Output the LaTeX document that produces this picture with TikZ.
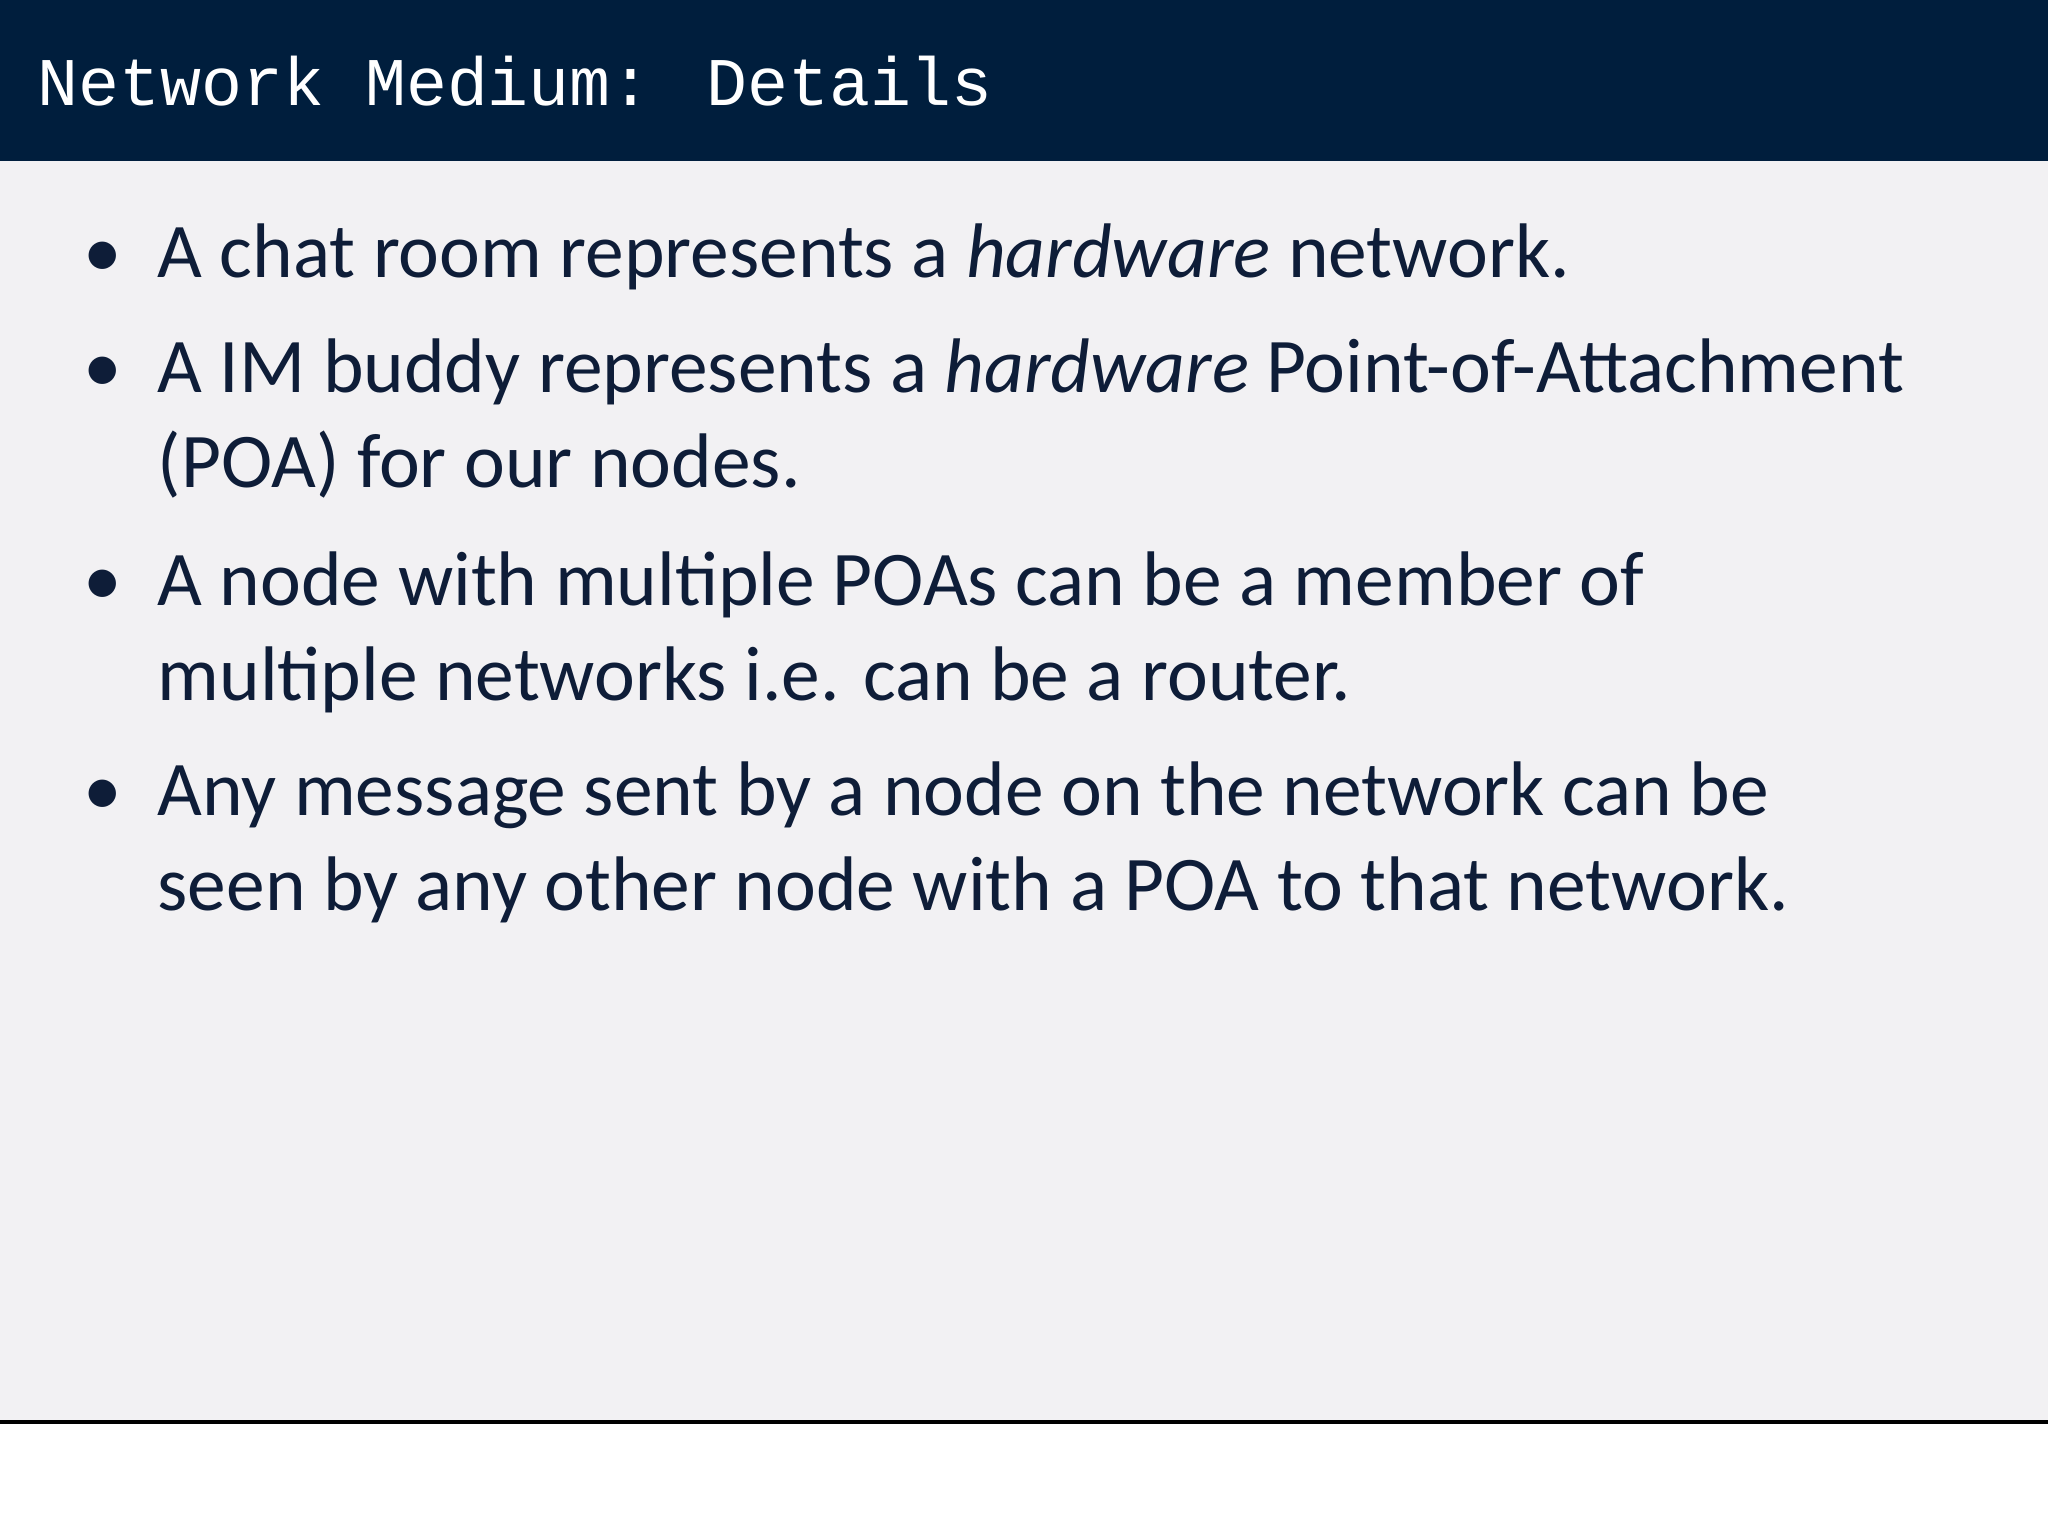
\documentclass[tikz,border=0pt]{standalone}
\usepackage{fontspec}
\setmainfont{Carlito}
\newfontfamily\titlefont{Liberation Mono}
\definecolor{navy}{HTML}{001E3D}
\definecolor{bodybg}{HTML}{F2F1F3}
\definecolor{txt}{HTML}{0E1D38}
\begin{document}
\begin{tikzpicture}[x=0.01cm,y=-0.01cm,
  line/.style={anchor=base west,inner sep=0,text=txt,font=\fontsize{22}{26}\selectfont},
  bul/.style={anchor=base west,inner sep=0,text=txt,font=\fontsize{22}{26}\selectfont}]
\useasboundingbox (0,0) rectangle (2048,1536);
\fill[white] (0,0) rectangle (2048,1536);
\fill[bodybg] (0,161) rectangle (2048,1421);
\fill[navy] (0,0) rectangle (2048,161);
\draw[black,line width=1.2pt] (0,1422) -- (2048,1422);
\node[anchor=base west,inner sep=0,text=white,font=\titlefont\fontsize{19.4}{22}\selectfont] (title) at (37,105) {Network Medium: Details};
\node[bul] (b1) at (83,277) {•};
\node[line] (l1) at (157,277) {A chat room represents a \textit{hardware} network.};
\node[bul] (b2) at (83,392) {•};
\node[line] (l2) at (157,392) {A IM buddy represents a \textit{hardware} Point-of-Attachment};
\node[line] (l3) at (157,487) {(POA) for our nodes.};
\node[bul] (b3) at (83,605) {•};
\node[line] (l4) at (157,605) {A node with multiple POAs can be a member of};
\node[line] (l5) at (157,700) {multiple networks i.e. can be a router.};
\node[bul] (b4) at (83,815) {•};
\node[line] (l6) at (157,815) {Any message sent by a node on the network can be};
\node[line] (l7) at (157,910) {seen by any other node with a POA to that network.};
\end{tikzpicture}
\end{document}
